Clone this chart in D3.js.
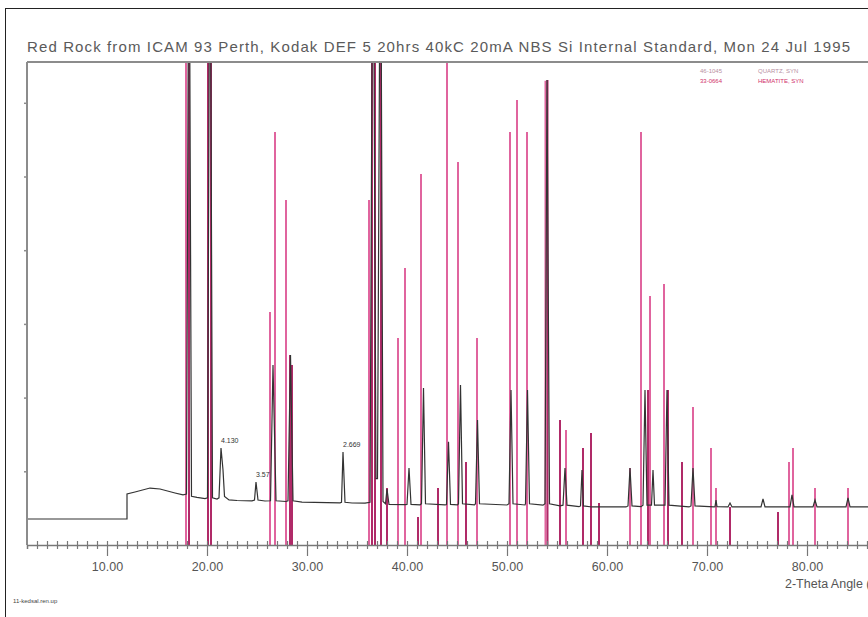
<!DOCTYPE html>
<html>
<head>
<meta charset="utf-8">
<script src="https://cdn.jsdelivr.net/npm/d3@7"></script>
<style>
  body { margin: 0; background: #fff; }
  svg { display: block; }
  text { font-family: "Liberation Sans", Arial, sans-serif; }
</style>
</head>
<body>
<svg id="chart" width="868" height="617"></svg>
<script>
// ---- data -------------------------------------------------------------
const titleText = "Red Rock from ICAM 93 Perth, Kodak DEF 5 20hrs 40kC 20mA NBS Si Internal Standard, Mon 24 Jul 1995";
const xTickValues = [10, 20, 30, 40, 50, 60, 70, 80];
const xTickLabels = ["10.00", "20.00", "30.00", "40.00", "50.00", "60.00", "70.00", "80.00"];
const xAxisTitle = "2-Theta Angle (deg)";
const fileName = "11-kedsal.ren.up";

// measured scan: [2-theta, counts]
const pattern = [
  [2.0, 353], [12.0, 353], [12.0, 692], [12.8, 719], [14.3, 773], [15.3, 760], [16.8, 706], [17.6, 679],
  [17.95, 690], [18.2, 9500], [18.45, 660], [19.0, 645], [19.8, 630],
  [20.05, 640], [20.3, 9500], [20.55, 640], [21.0, 624],
  [21.2, 640], [21.4, 1316], [21.6, 1018], [21.75, 660], [22.2, 611], [23.0, 604], [24.5, 600],
  [24.75, 610], [24.9, 855], [25.1, 610], [25.8, 597],
  [26.35, 600], [26.6, 2443], [26.9, 600], [27.9, 590],
  [28.1, 600], [28.35, 2578], [28.6, 600], [29.5, 583], [32.0, 575], [33.3, 572],
  [33.45, 580], [33.6, 1262], [33.8, 580], [34.5, 570], [35.8, 568],
  [36.3, 580], [36.6, 9500], [36.9, 900], [37.05, 900], [37.35, 9500], [37.6, 590],
  [37.85, 560], [38.0, 760], [38.2, 550], [39.8, 548],
  [40.0, 550], [40.2, 1045], [40.4, 550], [41.3, 545],
  [41.45, 560], [41.65, 2130], [41.85, 560], [43.8, 545],
  [43.95, 550], [44.15, 1400], [44.35, 550], [45.05, 545],
  [45.15, 560], [45.35, 2171], [45.55, 560], [46.75, 545],
  [46.85, 560], [47.05, 1696], [47.25, 560], [50.0, 543],
  [50.2, 560], [50.4, 2103], [50.6, 560], [51.8, 543],
  [51.85, 560], [52.05, 2103], [52.25, 560], [53.6, 540],
  [53.8, 560], [54.0, 6310], [54.25, 560], [55.3, 530],
  [55.6, 540], [55.8, 1045], [56.0, 540], [57.2, 520],
  [57.35, 530], [57.5, 1018], [57.65, 530], [58.5, 516], [61.9, 516],
  [62.1, 530], [62.3, 1045], [62.5, 530], [63.4, 520],
  [63.6, 540], [63.8, 2103], [64.0, 540], [64.45, 540], [64.6, 1018], [64.75, 540],
  [65.8, 540], [66.0, 2103], [66.2, 540], [68.2, 516],
  [68.4, 530], [68.6, 1045], [68.8, 530], [70.7, 516],
  [70.8, 520], [70.9, 611], [71.0, 520], [72.1, 516],
  [72.3, 570], [72.5, 516], [75.4, 516],
  [75.6, 624], [75.8, 516], [78.3, 516],
  [78.5, 679], [78.7, 516], [80.6, 516],
  [80.8, 611], [81.0, 516], [83.9, 516],
  [84.1, 640], [84.3, 516], [90.0, 516]
];

// reference line pattern 1 (dark magenta): [2-theta, intensity]
const sticksDark = [
  [18.2, 9000], [20.1, 9000], [20.4, 9000], [28.3, 2578], [28.5, 2443],
  [36.5, 9000], [36.8, 9000], [37.4, 9000], [38.0, 773], [41.1, 380],
  [43.1, 773], [45.9, 1126], [54.05, 6310], [55.3, 1696], [57.6, 1316],
  [58.4, 1520], [59.2, 570], [64.1, 2103], [66.1, 2103], [67.5, 1126],
  [72.3, 516], [77.1, 448]
];

// reference line pattern 2 (pink): [2-theta, intensity]
const sticksPink = [
  [17.9, 9000], [26.3, 3162], [26.8, 5604], [27.9, 4682], [36.2, 4682],
  [39.1, 2809], [39.8, 3759], [41.4, 5034], [44.0, 9000], [45.1, 5197],
  [47.0, 2809], [50.3, 5604], [51.0, 6039], [52.0, 5604], [53.85, 6300],
  [55.9, 1560], [62.3, 1045], [63.4, 5604], [64.3, 3379], [65.7, 3542],
  [68.6, 1873], [70.4, 1316], [70.9, 773], [78.2, 1126], [78.6, 1316],
  [80.8, 773], [84.1, 773]
];

// d-spacing annotations: [2-theta, counts, label]
const peakLabels = [[21.4, 1316, "4.130"], [24.9, 855, "3.57"], [33.6, 1262, "2.669"]];

// card list: [card number, phase]
const legendCodes = ["46-1045", "33-0664"];
const legendNames = ["QUARTZ, SYN", "HEMATITE, SYN"];
const legendColors = ["#b8909f", "#d0306a"];

// ---- layout -----------------------------------------------------------
const svg = d3.select("#chart");
const plot = { left: 27, top: 62, right: 907, bottom: 545 };

const x = d3.scaleLinear().domain([2, 90]).range([plot.left, plot.right]);
const y = d3.scaleLinear().domain([0, 6540]).range([plot.bottom, 63]);

// outer frame
svg.append("rect")
  .attr("x", 5.5).attr("y", 8.5).attr("width", 920).attr("height", 700)
  .attr("fill", "none").attr("stroke", "#222").attr("stroke-width", 1);

// title
svg.append("text")
  .attr("x", 27).attr("y", 52)
  .attr("font-size", 15).attr("fill", "#5a5a5a")
  .attr("textLength", 823).attr("lengthAdjust", "spacing")
  .text(titleText);

// clip region for the data
svg.append("defs").append("clipPath").attr("id", "plotclip")
  .append("rect")
  .attr("x", plot.left).attr("y", plot.top)
  .attr("width", plot.right - plot.left).attr("height", plot.bottom - plot.top);

const data = svg.append("g").attr("clip-path", "url(#plotclip)");

// reference sticks
data.append("g").selectAll("line").data(sticksPink).join("line")
  .attr("x1", d => x(d[0])).attr("x2", d => x(d[0]))
  .attr("y1", y(0)).attr("y2", d => y(d[1]))
  .attr("stroke", "#e0649e").attr("stroke-width", 2);

data.append("g").selectAll("line").data(sticksDark).join("line")
  .attr("x1", d => x(d[0])).attr("x2", d => x(d[0]))
  .attr("y1", y(0)).attr("y2", d => y(d[1]))
  .attr("stroke", "#b02a68").attr("stroke-width", 2);

// measured scan
data.append("path")
  .datum(pattern)
  .attr("d", d3.line().x(d => x(d[0])).y(d => y(d[1])))
  .attr("fill", "none").attr("stroke", "#333").attr("stroke-width", 1.2);

// d-spacing labels
svg.append("g").selectAll("text").data(peakLabels).join("text")
  .attr("x", d => x(d[0])).attr("y", d => y(d[1]) - 5)
  .attr("font-size", 7).attr("fill", "#333")
  .text(d => d[2]);

// frame line along the top
svg.append("line").attr("x1", plot.left).attr("x2", 868).attr("y1", plot.top).attr("y2", plot.top)
  .attr("stroke", "#8c8c8c").attr("stroke-width", 2);

// y axis (unlabelled ticks)
const yAxis = svg.append("g").attr("transform", `translate(${plot.left},0)`)
  .call(d3.axisLeft(y).tickValues([1000, 2000, 3000, 4000, 5000, 6000]).tickSize(3).tickFormat(""));
yAxis.select(".domain").attr("stroke", "#8c8c8c").attr("stroke-width", 2)
  .attr("d", `M0,${plot.top}V${plot.bottom}`);
yAxis.selectAll(".tick line").attr("stroke", "#8c8c8c").attr("stroke-width", 1.5);

// x axis: minor ticks every degree crossing the axis line
const minorTicks = d3.range(3, 90, 1).filter(v => v % 10 !== 0);
const xMinor = svg.append("g").attr("transform", `translate(0,${plot.bottom})`)
  .call(d3.axisBottom(x).tickValues(minorTicks).tickSize(4).tickFormat(""));
xMinor.select(".domain").attr("stroke", "#777").attr("stroke-width", 1.5);
xMinor.selectAll(".tick line").attr("y1", -4).attr("y2", 4).attr("stroke", "#777").attr("stroke-width", 1.2);

// x axis: major ticks with labels
const xMajor = svg.append("g").attr("transform", `translate(0,${plot.bottom})`)
  .call(d3.axisBottom(x).tickValues(xTickValues).tickSize(11).tickPadding(6)
    .tickFormat((d, i) => xTickLabels[i]));
xMajor.select(".domain").remove();
xMajor.selectAll(".tick line").attr("y1", -4).attr("stroke", "#777").attr("stroke-width", 1.2);
xMajor.selectAll(".tick text").attr("font-size", 12.5).attr("fill", "#555")
  .attr("font-family", "DejaVu Sans, sans-serif");

// axis title (runs past the right edge of the page)
svg.append("text").attr("x", 785).attr("y", 588)
  .attr("font-size", 12.5).attr("fill", "#555").text(xAxisTitle);

// file name
svg.append("text").attr("x", 13).attr("y", 603)
  .attr("font-size", 6).attr("fill", "#444").text(fileName);

// card legend
const legend = svg.append("g").attr("font-size", 6);
legendCodes.forEach((code, i) => {
  legend.append("text").attr("x", 700).attr("y", 73 + i * 10).attr("fill", legendColors[i]).text(code);
  legend.append("text").attr("x", 758).attr("y", 73 + i * 10).attr("fill", legendColors[i]).text(legendNames[i]);
});
</script>
</body>
</html>
